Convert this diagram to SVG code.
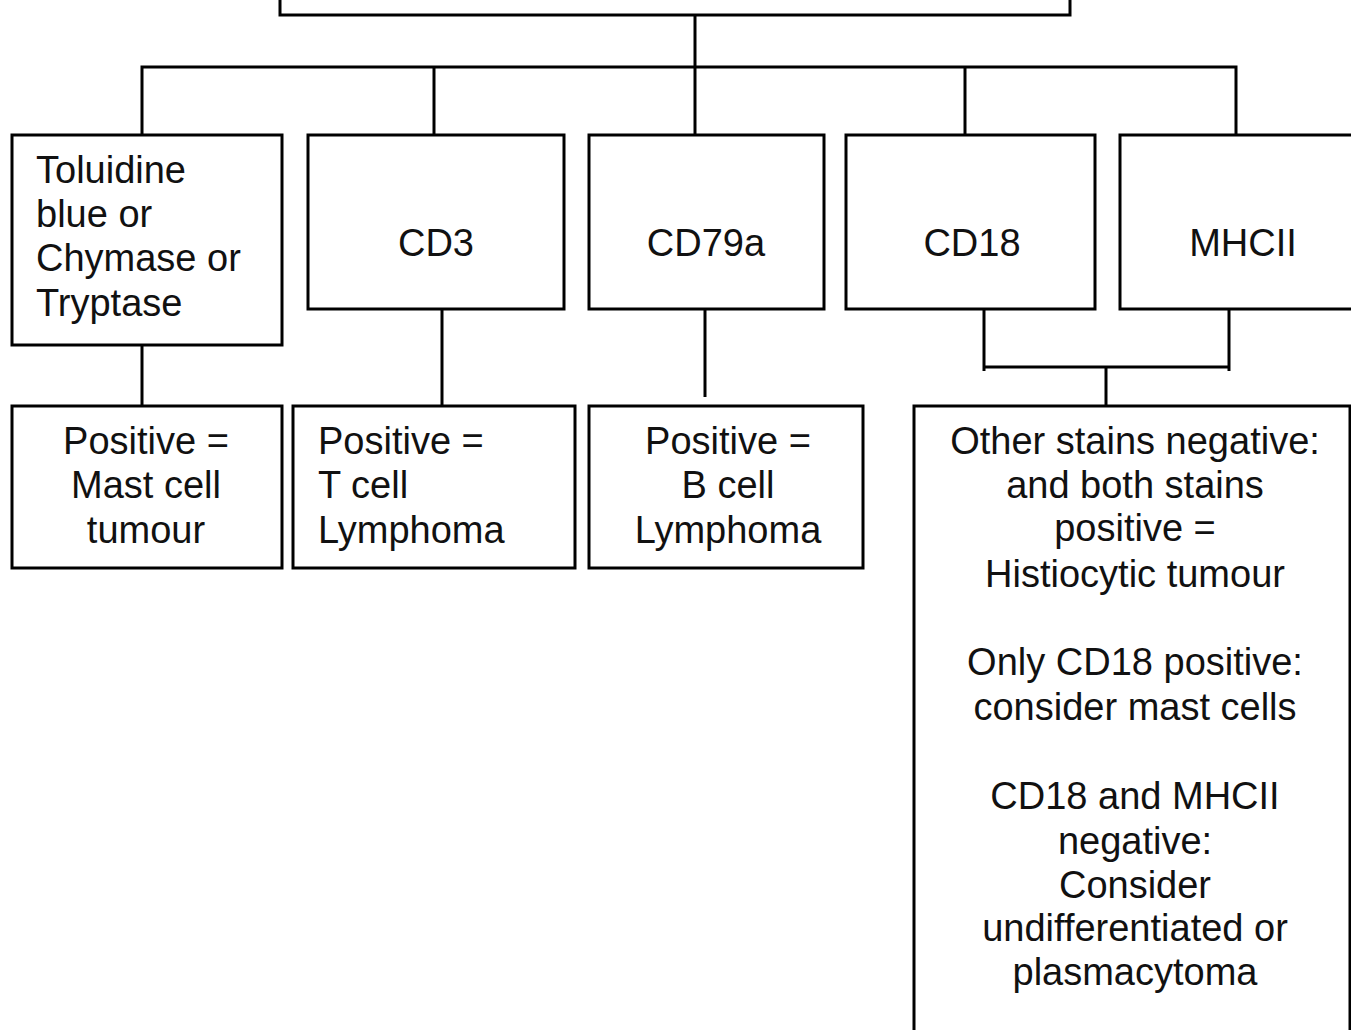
<svg xmlns="http://www.w3.org/2000/svg" width="1351" height="1030" viewBox="0 0 1351 1030">
<style>
.box{fill:#fff;stroke:#000;stroke-width:3}
.ln{fill:none;stroke:#000;stroke-width:3}
text{font-family:"Liberation Sans",Arial,sans-serif;font-size:38px;fill:#111}
.c{text-anchor:middle}
</style>
<rect width="1351" height="1030" fill="#fff"/>
<g id="connectors">
<line class="ln" x1="695" y1="7" x2="695" y2="135"/>
<polyline class="ln" points="142,135 142,67 1236,67 1236,135"/>
<line class="ln" x1="434" y1="67" x2="434" y2="135"/>
<line class="ln" x1="965" y1="67" x2="965" y2="135"/>
<line class="ln" x1="142" y1="337" x2="142" y2="406"/>
<line class="ln" x1="442" y1="309" x2="442" y2="406"/>
<line class="ln" x1="705" y1="309" x2="705" y2="397"/>
<polyline class="ln" points="984,309 984,371"/>
<polyline class="ln" points="1229,309 1229,371"/>
<line class="ln" x1="984" y1="367" x2="1229" y2="367"/>
<line class="ln" x1="1106" y1="367" x2="1106" y2="406"/>
</g>
<g id="top">
<rect class="box" x="280" y="-50" width="790" height="65"/>
</g>
<g id="toluidine">
<rect class="box" x="12" y="135" width="270" height="210"/>
<text x="36" y="183">Toluidine</text>
<text x="36" y="227">blue or</text>
<text x="36" y="271">Chymase or</text>
<text x="36" y="316">Tryptase</text>
</g>
<g id="cd3">
<rect class="box" x="308" y="135" width="256" height="174"/>
<text class="c" x="436" y="256">CD3</text>
</g>
<g id="cd79a">
<rect class="box" x="589" y="135" width="235" height="174"/>
<text class="c" x="706" y="256">CD79a</text>
</g>
<g id="cd18">
<rect class="box" x="846" y="135" width="249" height="174"/>
<text class="c" x="972" y="256">CD18</text>
</g>
<g id="mhcii">
<rect class="box" x="1120" y="135" width="260" height="174"/>
<text class="c" x="1243" y="256">MHCII</text>
</g>
<g id="mast">
<rect class="box" x="12" y="406" width="270" height="162"/>
<text class="c" x="146" y="454">Positive =</text>
<text class="c" x="146" y="498">Mast cell</text>
<text class="c" x="146" y="543">tumour</text>
</g>
<g id="tcell">
<rect class="box" x="293" y="406" width="282" height="162"/>
<text x="318" y="454">Positive =</text>
<text x="318" y="498">T cell</text>
<text x="318" y="543">Lymphoma</text>
</g>
<g id="bcell">
<rect class="box" x="589" y="406" width="274" height="162"/>
<text class="c" x="728" y="454">Positive =</text>
<text class="c" x="728" y="498">B cell</text>
<text class="c" x="728" y="543">Lymphoma</text>
</g>
<g id="histio">
<rect class="box" x="914" y="406" width="436" height="700"/>
<text class="c" x="1135" y="454">Other stains negative:</text>
<text class="c" x="1135" y="498">and both stains</text>
<text class="c" x="1135" y="541">positive =</text>
<text class="c" x="1135" y="587">Histiocytic tumour</text>
<text class="c" x="1135" y="675">Only CD18 positive:</text>
<text class="c" x="1135" y="720">consider mast cells</text>
<text class="c" x="1135" y="809">CD18 and MHCII</text>
<text class="c" x="1135" y="854">negative:</text>
<text class="c" x="1135" y="898">Consider</text>
<text class="c" x="1135" y="941">undifferentiated or</text>
<text class="c" x="1135" y="985">plasmacytoma</text>
</g>
</svg>
